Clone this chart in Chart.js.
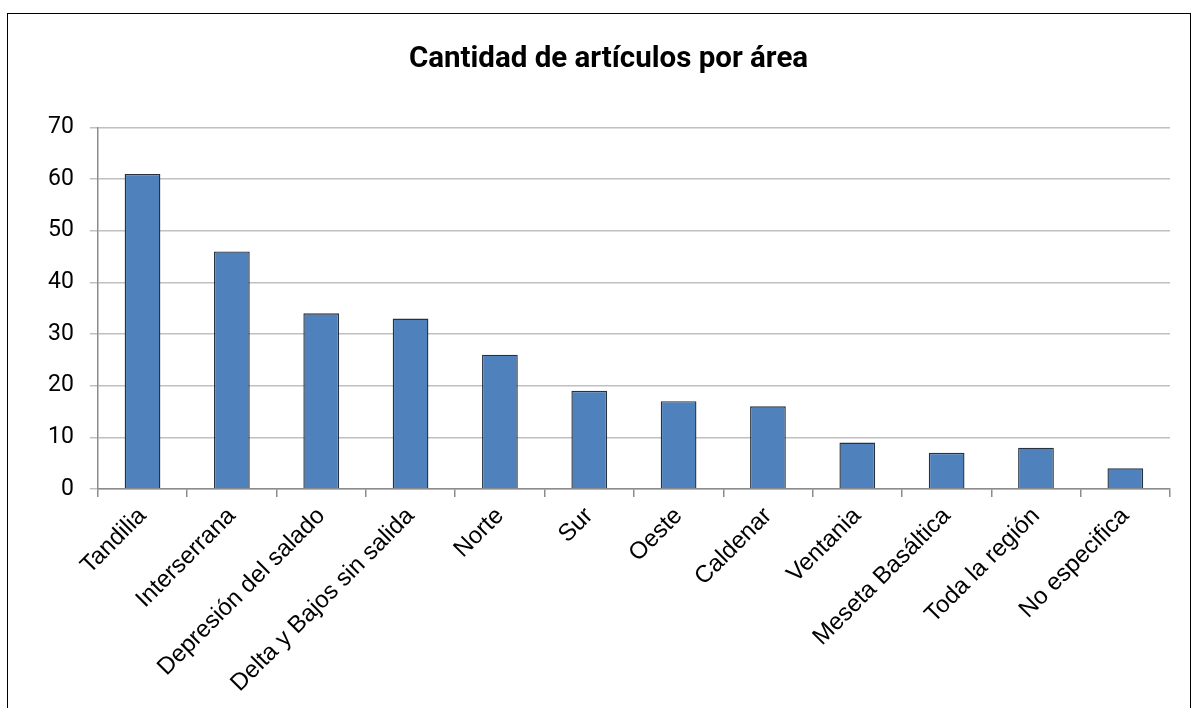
<!DOCTYPE html>
<html>
<head>
<meta charset="utf-8">
<script src="https://cdn.jsdelivr.net/npm/chart.js@4"></script>
<style>
  html, body { margin: 0; padding: 0; background: #fff; }
  #frame {
    position: absolute; left: 7px; top: 13px;
    width: 1184px; height: 720px;
    border: 1.5px solid #000; box-sizing: border-box;
  }
  #frame canvas { display: block; }
</style>
</head>
<body>
<div id="frame"><canvas id="areaChart" width="1181" height="717"></canvas></div>
<script>
// ── DATA ──
const areas = ['Tandilia', 'Interserrana', 'Depresión del salado', 'Delta y Bajos sin salida',
    'Norte', 'Sur', 'Oeste', 'Caldenar', 'Ventania', 'Meseta Basáltica', 'Toda la región', 'No especifica'];
const articleCounts = [61, 46, 34, 33, 26, 19, 17, 16, 9, 7, 8, 4];
const yTicks = [0, 10, 20, 30, 40, 50, 60, 70];

Chart.defaults.font.family = "Roboto, 'Liberation Sans', sans-serif";
Chart.defaults.color = '#000';

const ctx = document.getElementById('areaChart').getContext('2d');
new Chart(ctx, {
    type: 'bar',
    data: {
        labels: areas,
        datasets: [{
            label: 'Cantidad',
            data: articleCounts,
            backgroundColor: '#4f81bd',
            borderColor: '#26323f',
            borderWidth: 1.4,
            barPercentage: 0.4,
            categoryPercentage: 1
        }]
    },
    options: {
        responsive: false,
        animation: false,
        // extra left padding nudges the title right; the y axis is narrowed by the same amount
        layout: { padding: { left: 39, right: 19, top: 0, bottom: 0 } },
        plugins: {
            legend: { display: false },
            tooltip: { enabled: false },
            title: {
                display: true,
                text: 'Cantidad de artículos por área',
                font: { size: 29.5, weight: 'bold' },
                padding: { top: 28, bottom: 50 }
            }
        },
        scales: {
            y: {
                min: 0, max: 70,
                afterBuildTicks: axis => { axis.ticks = yTicks.map(v => ({ value: v })); },
                afterFit: axis => { axis.width -= 15; },
                grid: { color: '#c0c0c0', lineWidth: 1.5, tickLength: 8 },
                border: { color: '#8c8c8c', width: 1.5 },
                ticks: { font: { size: 23 }, padding: 16 }
            },
            x: {
                // keep the plot box where the reference has it; long rotated labels run to the bottom edge
                afterFit: axis => { axis.height = 242; axis.paddingLeft = 0; axis.paddingRight = 0; },
                grid: { drawOnChartArea: false, color: '#8c8c8c', lineWidth: 1.5, tickLength: 8, offset: true },
                border: { color: '#8c8c8c', width: 1.5 },
                ticks: { font: { family: "'Liberation Sans', Arial, sans-serif", size: 24 }, minRotation: 45, maxRotation: 45, padding: 5 }
            }
        }
    }
});
</script>
</body>
</html>
